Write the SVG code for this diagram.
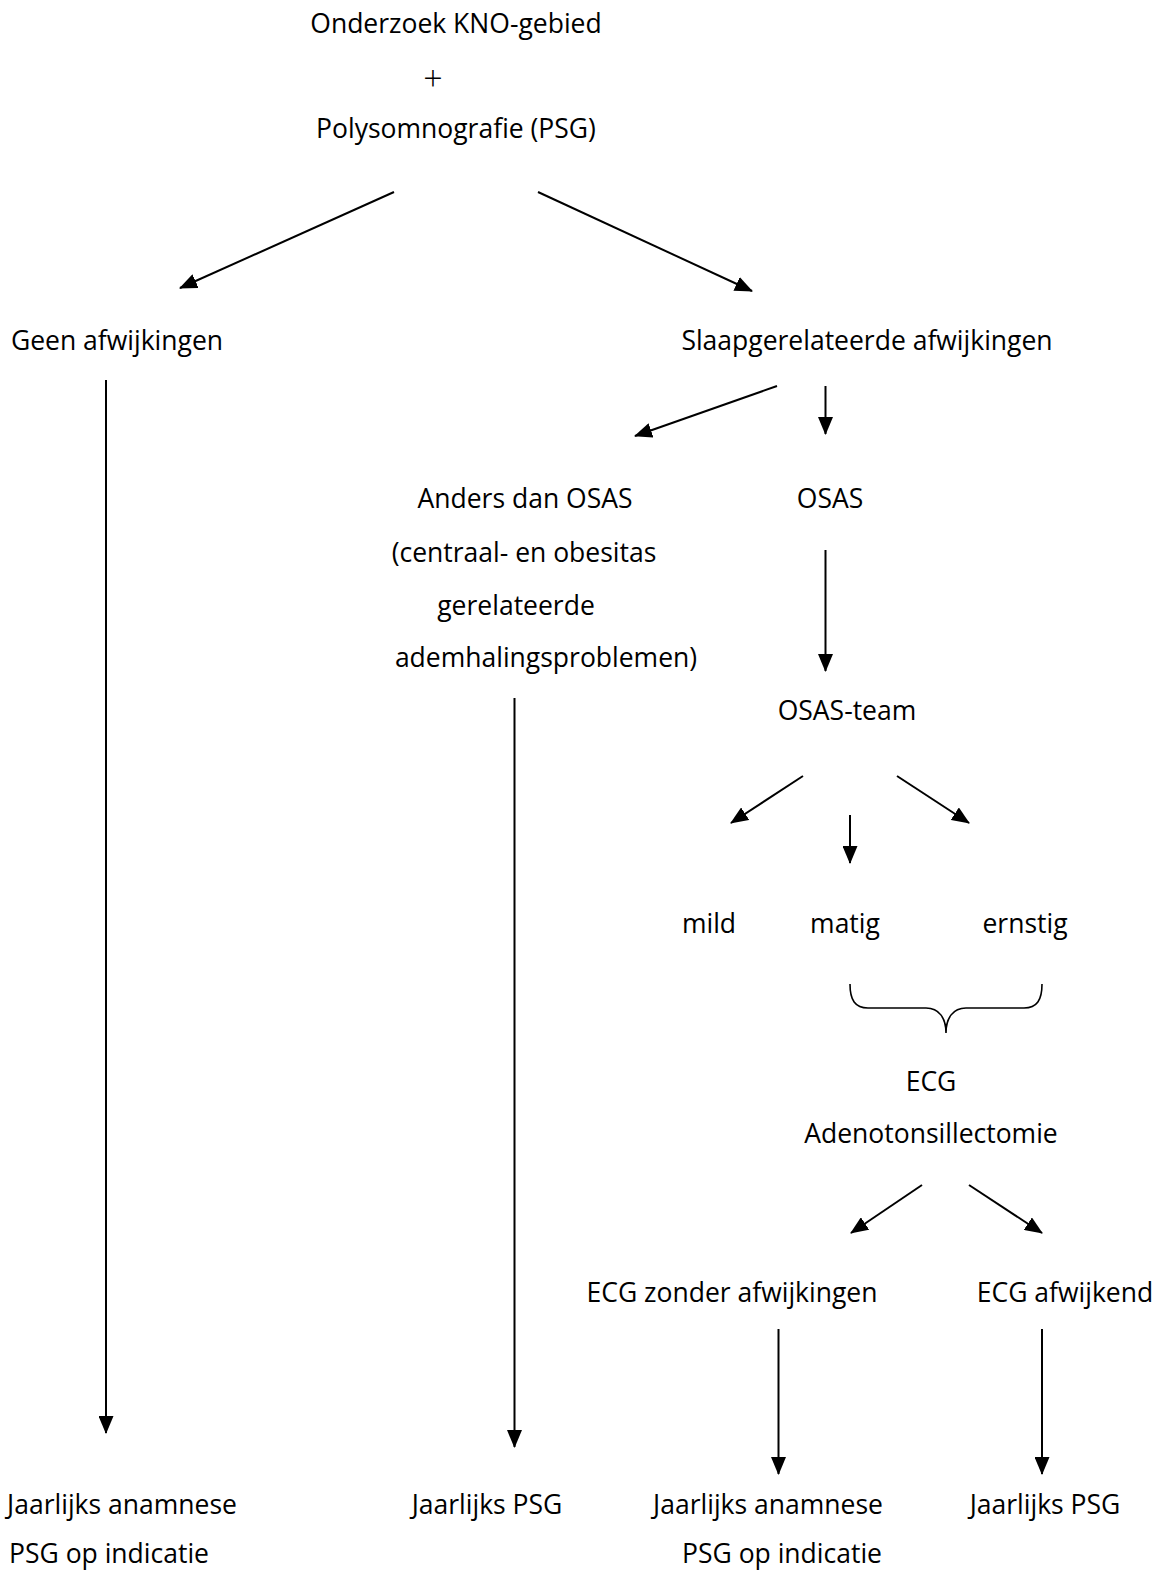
<svg xmlns="http://www.w3.org/2000/svg" width="1157" height="1575" viewBox="0 0 1157 1575">
<defs>
<style>
text{font-family:"Open Sans","Noto Sans","Liberation Sans",sans-serif;font-size:26.5px;fill:#000;text-anchor:middle}
.plus{font-size:34px;font-weight:300}
.c{stroke:#000;stroke-width:2;fill:none}
.b{stroke:#000;stroke-width:1.6;fill:none}
</style>
<marker id="ah" viewBox="0 0 18 15" refX="17" refY="7.5" markerWidth="18" markerHeight="15" markerUnits="userSpaceOnUse" orient="auto">
<path d="M0,0 L18,7.5 L0,15 z" fill="#000"/>
</marker>
</defs>
<rect width="1157" height="1575" fill="#fff"/>
<g id="n-start"><text x="456" y="33">Onderzoek KNO-gebied</text><text class="plus" x="433" y="91">+</text><text x="456" y="138">Polysomnografie (PSG)</text></g>
<g id="n-geen"><text x="117" y="350">Geen afwijkingen</text></g>
<g id="n-slaap"><text x="867" y="350">Slaapgerelateerde afwijkingen</text></g>
<g id="n-anders"><text x="525" y="508">Anders dan OSAS</text><text x="524" y="562">(centraal- en obesitas</text><text x="516" y="615">gerelateerde</text><text x="546" y="667">ademhalingsproblemen)</text></g>
<g id="n-osas"><text x="830" y="508">OSAS</text></g>
<g id="n-team"><text x="847" y="720">OSAS-team</text></g>
<g id="n-mild"><text x="709" y="933">mild</text></g>
<g id="n-matig"><text x="845" y="933">matig</text></g>
<g id="n-ernstig"><text x="1025" y="933">ernstig</text></g>
<g id="n-brace"><path class="b" d="M850,984 C850,1000 855,1008 868,1008 L926,1008 C939,1008 946,1018 946,1033 C946,1018 953,1008 966,1008 L1024,1008 C1037,1008 1042,1000 1042,984"/></g>
<g id="n-ecg"><text x="931" y="1091">ECG</text><text x="931" y="1143">Adenotonsillectomie</text></g>
<g id="n-ecgok"><text x="732" y="1302">ECG zonder afwijkingen</text></g>
<g id="n-ecgaf"><text x="1065" y="1302">ECG afwijkend</text></g>
<g id="n-end1"><text x="122" y="1514">Jaarlijks anamnese</text><text x="109" y="1563">PSG op indicatie</text></g>
<g id="n-end2"><text x="487" y="1514">Jaarlijks PSG</text></g>
<g id="n-end3"><text x="768" y="1514">Jaarlijks anamnese</text><text x="782" y="1563">PSG op indicatie</text></g>
<g id="n-end4"><text x="1045" y="1514">Jaarlijks PSG</text></g>
<g id="connectors">
<line class="c" x1="394" y1="192" x2="180" y2="288" marker-end="url(#ah)"/>
<line class="c" x1="538" y1="192" x2="752" y2="291" marker-end="url(#ah)"/>
<line class="c" x1="106" y1="380" x2="106" y2="1433" marker-end="url(#ah)"/>
<line class="c" x1="777" y1="386" x2="635" y2="436" marker-end="url(#ah)"/>
<line class="c" x1="825.5" y1="386" x2="825.5" y2="434" marker-end="url(#ah)"/>
<line class="c" x1="514.5" y1="698" x2="514.5" y2="1447" marker-end="url(#ah)"/>
<line class="c" x1="825.5" y1="550" x2="825.5" y2="671" marker-end="url(#ah)"/>
<line class="c" x1="803" y1="776" x2="731" y2="823" marker-end="url(#ah)"/>
<line class="c" x1="850" y1="815" x2="850" y2="863" marker-end="url(#ah)"/>
<line class="c" x1="897" y1="776" x2="969" y2="823" marker-end="url(#ah)"/>
<line class="c" x1="922" y1="1185" x2="851" y2="1233" marker-end="url(#ah)"/>
<line class="c" x1="969" y1="1185" x2="1042" y2="1233" marker-end="url(#ah)"/>
<line class="c" x1="778.5" y1="1329" x2="778.5" y2="1474" marker-end="url(#ah)"/>
<line class="c" x1="1042" y1="1329" x2="1042" y2="1474" marker-end="url(#ah)"/>
</g>
</svg>
